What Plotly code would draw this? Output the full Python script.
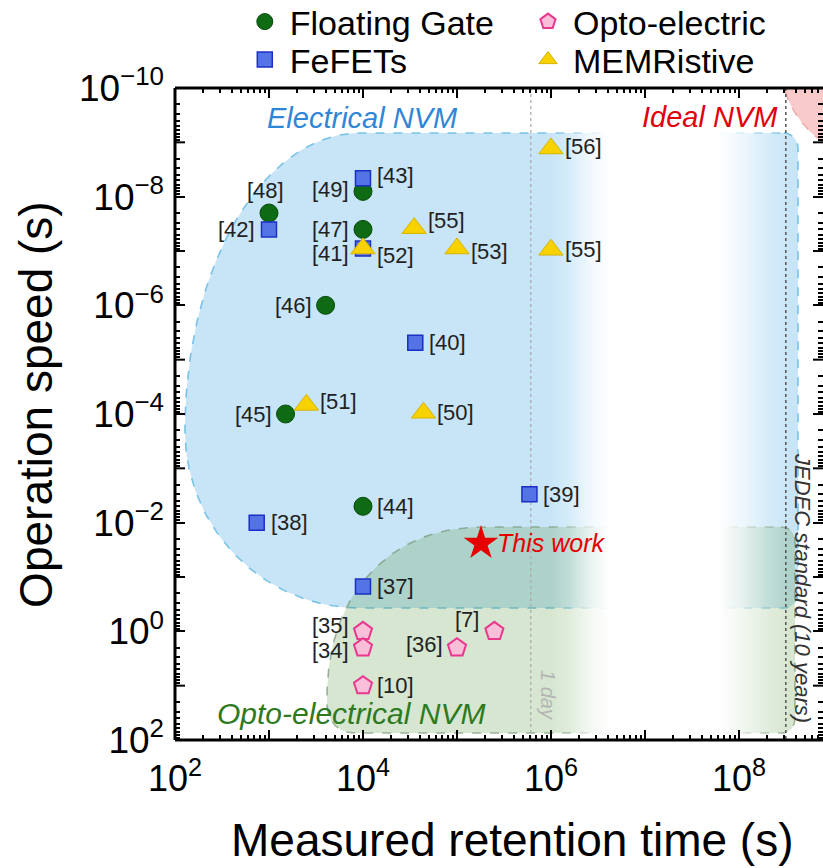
import numpy as np
import plotly.graph_objects as go

# ---------------- data ----------------
FG_labels = ["[48]", "[49]", "[47]", "[46]", "[45]", "[44]"]
FG_time = [1e3, 1e4, 1e4, 4e3, 1.5e3, 1e4]
FG_speed = [2e-8, 8e-9, 4e-8, 1e-6, 1e-4, 5e-3]

FE_labels = ["[43]", "[42]", "[41]", "[40]", "[39]", "[38]", "[37]"]
FE_time = [1e4, 1e3, 1e4, 3.6e4, 5.9e5, 7.4e2, 1e4]
FE_speed = [4.6e-9, 4e-8, 9e-8, 4.9e-6, 3e-3, 1e-2, 0.15]

MEM_labels = ["[56]", "[55]", "[52]", "[53]", "[55]", "[51]", "[50]"]
MEM_time = [1e6, 3.5e4, 1e4, 1e5, 1e6, 2.5e3, 4.4e4]
MEM_speed = [1.3e-9, 3.8e-8, 9e-8, 9e-8, 9.5e-8, 6.8e-5, 9.5e-5]

OPTO_labels = ["[35]", "[34]", "[10]", "[36]", "[7]"]
OPTO_time = [1e4, 1e4, 1e4, 1e5, 2.5e5]
OPTO_speed = [1.0, 2.0, 10.0, 2.0, 1.0]

THIS_time = [1.8e5]
THIS_speed = [2.4e-2]

DAY_LINE_X = 6.1e5        # "1 day" marker line as drawn
JEDEC_X = 3.15e8          # 10 years

X_LABEL_EXP = [2, 4, 6, 8]
X_ODD_EXP = [3, 5, 7]
Y_LABEL_EXP = [-10, -8, -6, -4, -2, 0, 2]
Y_ODD_EXP = [-9, -7, -5, -3, -1, 1]

# label placement (style): side and vertical nudge in px
FG_place = [("u", 0), ("l", 2), ("l", 0), ("l", 0), ("l", 0), ("r", 0)]
FE_place = [("r", 3), ("l", 0), ("l", -5), ("r", 0), ("r", 0), ("r", 0), ("r", 0)]
MEM_place = [("r", 2), ("r", 8), ("r", -7), ("r", -3), ("r", 0), ("r", 3), ("r", 0)]
OPTO_place = [("l", 6), ("l", -3), ("r", 0), ("l", 3), ("ul", 12)]

FONT = "Liberation Sans, Arial, sans-serif"

# ---------------- helpers ----------------
def rounded_region(L, R, T, B, tl, bl, tr, br, n=2.0, npts=60):
    """Rounded rectangle in (log x, log y) space, y increasing downward on screen."""
    e = 2.0 / n

    def arc(cx, cy, rx, ry, a0, a1):
        out = []
        for t in np.linspace(a0, a1, npts):
            c, s = np.cos(t), np.sin(t)
            out.append((cx + rx * np.sign(c) * abs(c) ** e,
                        cy + ry * np.sign(s) * abs(s) ** e))
        return out

    pts = []
    pts += arc(R - tr[0], T + tr[1], tr[0], tr[1], -np.pi / 2, 0)
    pts += arc(R - br[0], B - br[1], br[0], br[1], 0, np.pi / 2)
    pts += arc(L + bl[0], B - bl[1], bl[0], bl[1], np.pi / 2, np.pi)
    pts += arc(L + tl[0], T + tl[1], tl[0], tl[1], np.pi, 1.5 * np.pi)
    pts.append(pts[0])
    xs = [10 ** p[0] for p in pts]
    ys = [10 ** p[1] for p in pts]
    return xs, ys


def sup_label(e):
    s = str(e).replace("-", "\u2212")
    return f"10<sup>{s}</sup>"


fig = go.Figure()

# Electrical NVM region
ex, ey = rounded_region(2.106, 8.628, -9.172, -0.429,
                        tl=(1.862, 5.467), bl=(1.862, 3.276),
                        tr=(0.15, 0.28), br=(0.15, 0.28))
fig.add_trace(go.Scatter(x=ex, y=ey, mode="lines", fill="toself",
                         fillcolor="rgba(140,200,238,0.48)",
                         line=dict(color="rgba(110,190,230,0.9)", width=1.6, dash="dash"),
                         hoverinfo="skip", showlegend=False))

# Opto-electrical NVM region
gx, gy = rounded_region(3.617, 8.596, -1.920, 1.872,
                        tl=(1.681, 3.184), bl=(0.3, 0.55),
                        tr=(0.15, 0.28), br=(0.15, 0.28), n=2.2)
fig.add_trace(go.Scatter(x=gx, y=gy, mode="lines", fill="toself",
                         fillcolor="rgba(85,150,60,0.24)",
                         line=dict(color="rgba(120,150,120,0.7)", width=1.6, dash="dash"),
                         hoverinfo="skip", showlegend=False))

# white fade ("break") overlay
fx0, fx1, fy0, fy1 = 5.99, 8.54, -9.5, 2.0
fig.add_trace(go.Scatter(
    x=[10 ** fx0, 10 ** fx1, 10 ** fx1, 10 ** fx0, 10 ** fx0],
    y=[10 ** fy0, 10 ** fy0, 10 ** fy1, 10 ** fy1, 10 ** fy0],
    mode="none", fill="toself",
    fillgradient=dict(type="horizontal", colorscale=[
        [0.0, "rgba(255,255,255,0)"], [0.08, "rgba(255,255,255,0.25)"],
        [0.16, "rgba(255,255,255,0.7)"], [0.25, "rgba(255,255,255,1)"],
        [0.70, "rgba(255,255,255,1)"], [0.80, "rgba(255,255,255,0.7)"],
        [0.90, "rgba(255,255,255,0.3)"], [1.0, "rgba(255,255,255,0)"]]),
    hoverinfo="skip", showlegend=False))

# Ideal NVM disc (top-right corner; quarter disc, centre outside plot)
cx, cy, rx, ry = 9.50, -10.515, 1.064, 1.841
th = np.linspace(np.pi / 2, np.pi, 120)
ix = [cx] + list(cx + rx * np.cos(th)) + [cx]
iy = [cy] + list(cy + ry * np.sin(th)) + [cy]
fig.add_trace(go.Scatter(x=[10 ** v for v in ix], y=[10 ** v for v in iy],
                         mode="lines", fill="toself", fillcolor="rgba(248,196,196,0.9)",
                         line=dict(color="rgba(230,130,130,0.7)", width=1.2, dash="dash"),
                         hoverinfo="skip", showlegend=False))

# reference lines
fig.add_trace(go.Scatter(x=[DAY_LINE_X, DAY_LINE_X], y=[1e-10, 1e2], mode="lines",
                         line=dict(color="#a8a8a8", width=1.2, dash="dot"),
                         hoverinfo="skip", showlegend=False))
fig.add_trace(go.Scatter(x=[JEDEC_X, JEDEC_X], y=[1e-10, 1e2], mode="lines",
                         line=dict(color="#555555", width=1.5, dash="dot"),
                         hoverinfo="skip", showlegend=False))

# data series (each in its own one-item legend for exact placement)
fig.add_trace(go.Scatter(x=FG_time, y=FG_speed, mode="markers", name="Floating Gate",
                         legend="legend",
                         marker=dict(symbol="circle", size=18, color="#0e6b14",
                                     line=dict(color="#064a0a", width=1))))
fig.add_trace(go.Scatter(x=FE_time, y=FE_speed, mode="markers", name="FeFETs",
                         legend="legend3",
                         marker=dict(symbol="square", size=15, color="#5474e6",
                                     line=dict(color="#1b2fc4", width=1.5))))
fig.add_trace(go.Scatter(x=MEM_time, y=MEM_speed, mode="markers", name="MEMRistive",
                         legend="legend4",
                         marker=dict(symbol="triangle-up", size=21, color="#f7d200",
                                     line=dict(color="#d6b200", width=1))))
fig.add_trace(go.Scatter(x=OPTO_time, y=OPTO_speed, mode="markers", name="Opto-electric",
                         legend="legend2",
                         marker=dict(symbol="pentagon", size=19, color="#f9bfd9",
                                     line=dict(color="#e8398f", width=2))))
fig.add_trace(go.Scatter(x=THIS_time, y=THIS_speed, mode="markers", showlegend=False,
                         marker=dict(symbol="star", size=26, color="#e60000",
                                     line=dict(color="#e60000", width=0))))

annotations = []


def add_labels(labels, xs, ys, places):
    for lab, xv, yv, (side, dy) in zip(labels, xs, ys, places):
        a = dict(x=np.log10(xv), y=np.log10(yv), xref="x", yref="y", text=lab,
                 showarrow=False, font=dict(family=FONT, size=22, color="#222222"),
                 yanchor="middle", yshift=dy)
        if side == "l":
            a.update(xanchor="right", xshift=-12)
        elif side == "r":
            a.update(xanchor="left", xshift=12)
        elif side == "u":
            a.update(xanchor="center", xshift=-3, yshift=23)
        elif side == "ul":
            a.update(xanchor="right", xshift=-13)
        annotations.append(a)


add_labels(FG_labels, FG_time, FG_speed, FG_place)
add_labels(FE_labels, FE_time, FE_speed, FE_place)
add_labels(MEM_labels, MEM_time, MEM_speed, MEM_place)
add_labels(OPTO_labels, OPTO_time, OPTO_speed, OPTO_place)

annotations.append(dict(x=np.log10(THIS_time[0]), y=np.log10(THIS_speed[0]), xref="x", yref="y",
                        text="<i>This work</i>", showarrow=False, xanchor="left", xshift=14,
                        yanchor="middle", font=dict(family=FONT, size=25, color="#e60000")))

# region texts
annotations += [
    dict(x=4.0, y=-9.45, xref="x", yref="y", text="<i>Electrical NVM</i>", showarrow=False,
         font=dict(family=FONT, size=29, color="#2f86d6")),
    dict(x=7.69, y=-9.47, xref="x", yref="y", text="<i>Ideal NVM</i>", showarrow=False,
         font=dict(family=FONT, size=29, color="#e0000d")),
    dict(x=3.872, y=1.504, xref="x", yref="y", text="<i>Opto-electrical NVM</i>", showarrow=False,
         font=dict(family=FONT, size=30, color="#2d7a1f")),
    dict(x=5.968, y=1.172, xref="x", yref="y", text="<i>1 day</i>", showarrow=False, textangle=90,
         font=dict(family=FONT, size=20, color="#b5b5b5")),
    dict(x=8.681, y=-0.797, xref="x", yref="y", text="<i>JEDEC standard (10 years)</i>",
         showarrow=False, textangle=90, font=dict(family=FONT, size=22, color="#333333")),
    # axis titles
    dict(x=0.52, y=-0.153, xref="paper", yref="paper", text="Measured retention time (s)",
         showarrow=False, xanchor="center", yanchor="middle",
         font=dict(family=FONT, size=46, color="black")),
    dict(x=-0.2145, y=0.514, xref="paper", yref="paper", text="Operation speed (s)",
         showarrow=False, textangle=-90, xanchor="center", yanchor="middle",
         font=dict(family=FONT, size=46, color="black")),
]

x_minor = [k * 10.0 ** e for e in range(2, 9) for k in range(2, 10)]
y_minor = [k * 10.0 ** e for e in range(-10, 2) for k in range(2, 10)]

# spines + unlabeled (odd-decade) major ticks
spine = dict(color="black", width=3)
tick = dict(color="black", width=2)
shapes = [
    dict(type="line", xref="paper", yref="paper", x0=0, x1=0, y0=0, y1=1, line=spine, layer="above"),
    dict(type="line", xref="paper", yref="paper", x0=0, x1=1, y0=1, y1=1, line=spine, layer="above"),
    dict(type="line", xref="paper", yref="paper", x0=0, x1=1, y0=0, y1=0, line=spine, layer="above"),
]
for e in X_ODD_EXP:
    for anchor, (a0, a1) in ((0, (0, 10)), (1, (0, -10))):
        shapes.append(dict(type="line", xref="x", yref="paper", ysizemode="pixel", yanchor=anchor,
                           x0=10.0 ** e, x1=10.0 ** e, y0=a0, y1=a1, line=tick, layer="above"))
for e in Y_ODD_EXP:
    for anchor, (a0, a1) in ((0, (0, 10)), (1, (0, -10))):
        shapes.append(dict(type="line", yref="y", xref="paper", xsizemode="pixel", xanchor=anchor,
                           y0=10.0 ** e, y1=10.0 ** e, x0=a0, x1=a1, line=tick, layer="above"))


def legend_at(x, y):
    return dict(x=x, y=y, xanchor="left", yanchor="top", orientation="v",
                font=dict(family=FONT, size=34, color="black"),
                bgcolor="rgba(0,0,0,0)", itemsizing="trace", itemwidth=40)


fig.update_layout(
    width=823, height=868,
    margin=dict(l=175, r=0, t=88, b=128, autoexpand=False),
    paper_bgcolor="white", plot_bgcolor="white",
    font=dict(family=FONT, color="black"),
    showlegend=True,
    legend=legend_at(0.100, 1.1457),
    legend2=legend_at(0.537, 1.1457),
    legend3=legend_at(0.100, 1.0874),
    legend4=legend_at(0.537, 1.0874),
    xaxis=dict(type="log", range=[2, 8.894], showgrid=False, zeroline=False,
               showline=False, mirror="ticks", ticks="inside", ticklen=10, tickwidth=2,
               tickcolor="black", tickmode="array",
               tickvals=[10.0 ** e for e in X_LABEL_EXP],
               ticktext=[sup_label(e) for e in X_LABEL_EXP],
               tickfont=dict(family=FONT, size=36, color="black"),
               ticklabelstandoff=14,
               minor=dict(tickmode="array", tickvals=x_minor, ticks="inside",
                          ticklen=5, tickwidth=1.5, tickcolor="black", showgrid=False)),
    yaxis=dict(type="log", range=[2, -10], showgrid=False, zeroline=False,
               showline=False, mirror="ticks", ticks="inside", ticklen=10, tickwidth=2,
               tickcolor="black", tickmode="array",
               tickvals=[10.0 ** e for e in Y_LABEL_EXP],
               ticktext=[sup_label(e) for e in Y_LABEL_EXP],
               tickfont=dict(family=FONT, size=37, color="black"),
               ticklabelstandoff=10,
               minor=dict(tickmode="array", tickvals=y_minor, ticks="inside",
                          ticklen=5, tickwidth=1.5, tickcolor="black", showgrid=False)),
    annotations=annotations,
    shapes=shapes,
)

fig.write_html("out.html")
